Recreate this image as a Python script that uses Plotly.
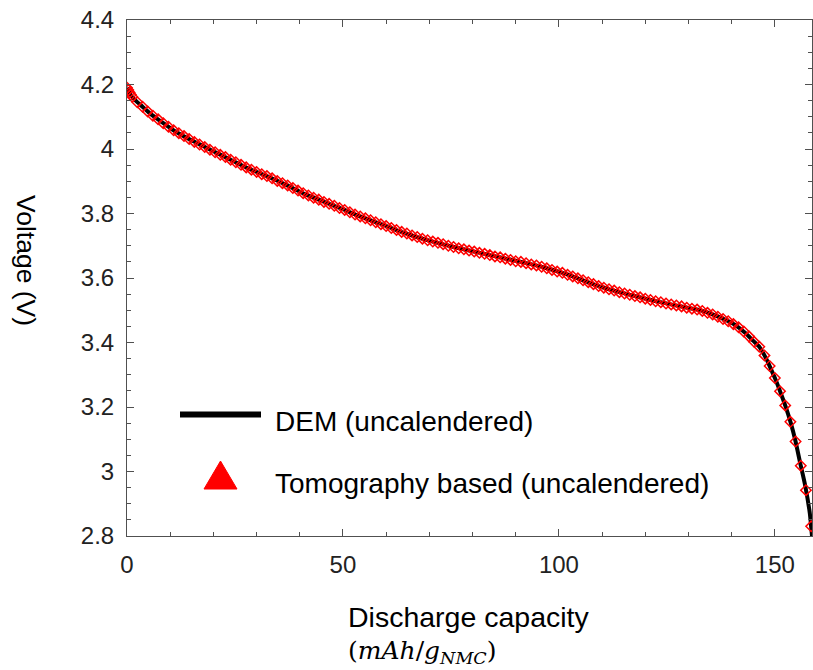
import plotly.graph_objects as go

# DEM simulation (uncalendered electrode): discharge capacity [mAh/g_NMC] vs voltage [V]
dem_capacity = [0, 1, 2, 3.6, 5.5, 7.9, 11, 15.5, 20, 24.1, 28, 32.7, 37, 41.2, 45.5,
                49.8, 54, 58.3, 62.5, 66.9, 71, 75.4, 80, 84, 88, 92.5, 97, 101, 105,
                109.6, 114, 118.2, 122.5, 126.7, 130, 133, 136, 139.4, 141.5, 143.3,
                145, 146.4, 147.6, 148.7, 149.5, 150.2, 151.4, 152.5, 153.7, 154.8,
                155.8, 157.0, 158.1, 158.6]
dem_voltage = [4.190, 4.165, 4.150, 4.131, 4.108, 4.085, 4.056, 4.023, 3.993, 3.966,
               3.940, 3.914, 3.888, 3.860, 3.837, 3.814, 3.791, 3.770, 3.748, 3.728,
               3.712, 3.697, 3.683, 3.671, 3.659, 3.646, 3.631, 3.615, 3.596, 3.573,
               3.556, 3.542, 3.528, 3.516, 3.507, 3.499, 3.485, 3.465, 3.448, 3.428,
               3.405, 3.387, 3.360, 3.330, 3.305, 3.284, 3.242, 3.201, 3.150, 3.093,
               3.030, 2.958, 2.870, 2.800]

# Tomography-based simulation (uncalendered electrode)
tomo_capacity = [0, 0.3, 0.6, 0.9, 1.2, 2.4, 3.6, 4.8, 6.0, 7.2, 8.4, 9.6, 10.8, 12.0,
                 13.2, 14.4, 15.6, 16.8, 18.0, 19.2, 20.4, 21.6, 22.8, 24.0, 25.2, 26.4,
                 27.6, 28.8, 30.0, 31.2, 32.4, 33.6, 34.8, 36.0, 37.2, 38.4, 39.6, 40.8,
                 42.0, 43.2, 44.4, 45.6, 46.8, 48.0, 49.2, 50.4, 51.6, 52.8, 54.0, 55.2,
                 56.4, 57.6, 58.8, 60.0, 61.2, 62.4, 63.6, 64.8, 66.0, 67.2, 68.4, 69.6,
                 70.8, 72.0, 73.2, 74.4, 75.6, 76.8, 78.0, 79.2, 80.4, 81.6, 82.8, 84.0,
                 85.2, 86.4, 87.6, 88.8, 90.0, 91.2, 92.4, 93.6, 94.8, 96.0, 97.2, 98.4,
                 99.6, 100.8, 102.0, 103.2, 104.4, 105.6, 106.8, 108.0, 109.2, 110.4,
                 111.6, 112.8, 114.0, 115.2, 116.4, 117.6, 118.8, 120.0, 121.2, 122.4,
                 123.6, 124.8, 126.0, 127.2, 128.4, 129.6, 130.8, 132.0, 133.2, 134.4,
                 135.6, 136.8, 138.0, 139.2, 140.4, 141.6, 142.8, 144.0, 145.2, 146.4,
                 147.6, 148.8, 150.0, 151.2, 152.4, 153.6, 154.8, 156.0, 157.2, 158.4]
tomo_voltage = [4.190, 4.183, 4.175, 4.168, 4.162, 4.145, 4.131, 4.116, 4.103, 4.092,
                4.080, 4.069, 4.058, 4.049, 4.040, 4.031, 4.022, 4.014, 4.006, 3.998,
                3.990, 3.982, 3.975, 3.967, 3.959, 3.951, 3.943, 3.936, 3.929, 3.922,
                3.916, 3.909, 3.901, 3.894, 3.887, 3.879, 3.871, 3.863, 3.856, 3.849,
                3.843, 3.836, 3.830, 3.824, 3.817, 3.811, 3.804, 3.797, 3.791, 3.785,
                3.779, 3.773, 3.767, 3.761, 3.755, 3.749, 3.743, 3.738, 3.732, 3.727,
                3.722, 3.717, 3.713, 3.709, 3.705, 3.700, 3.696, 3.692, 3.689, 3.685,
                3.682, 3.678, 3.675, 3.671, 3.667, 3.664, 3.660, 3.656, 3.652, 3.650,
                3.646, 3.642, 3.639, 3.635, 3.630, 3.625, 3.620, 3.616, 3.610, 3.605,
                3.599, 3.593, 3.587, 3.581, 3.575, 3.570, 3.565, 3.561, 3.556, 3.552,
                3.548, 3.544, 3.540, 3.536, 3.532, 3.528, 3.525, 3.521, 3.518, 3.515,
                3.512, 3.508, 3.505, 3.502, 3.498, 3.492, 3.487, 3.480, 3.473, 3.466,
                3.457, 3.447, 3.434, 3.419, 3.402, 3.387, 3.360, 3.327, 3.290, 3.249,
                3.205, 3.154, 3.093, 3.018, 2.942, 2.830]

x_tick_vals = [0, 50, 100, 150]
x_tick_text = ["0", "50", "100", "150"]
y_tick_vals = [2.8, 3.0, 3.2, 3.4, 3.6, 3.8, 4.0, 4.2, 4.4]
y_tick_text = ["2.8", "3", "3.2", "3.4", "3.6", "3.8", "4", "4.2", "4.4"]

legend_labels = ["DEM (uncalendered)", "Tomography based (uncalendered)"]

FONT = "Liberation Sans, Arial, sans-serif"
AXIS_COLOR = "#505050"
TEXT_COLOR = "#222222"

fig = go.Figure()

fig.add_trace(go.Scatter(
    x=dem_capacity, y=dem_voltage, mode="lines",
    line=dict(color="black", width=4, shape="spline", smoothing=0.5),
    name=legend_labels[0], showlegend=False,
))
fig.add_trace(go.Scatter(
    x=tomo_capacity, y=tomo_voltage, mode="markers",
    marker=dict(symbol="diamond-open", size=8, color="#ff0000",
                line=dict(color="#ff0000", width=1.5)),
    name=legend_labels[1], showlegend=False,
))

axis_common = dict(
    showline=True, linecolor=AXIS_COLOR, linewidth=1, mirror="allticks",
    ticks="inside", tickcolor=AXIS_COLOR, tickwidth=1, ticklen=7,
    showgrid=False, zeroline=False,
    tickfont=dict(family=FONT, size=24, color=TEXT_COLOR),
)

fig.update_xaxes(
    range=[0, 158.6], tickmode="array", tickvals=x_tick_vals, ticktext=x_tick_text,
    minor=dict(tickmode="linear", tick0=0, dtick=10, ticks="inside", ticklen=4,
               tickcolor=AXIS_COLOR, tickwidth=1),
    ticklabelstandoff=7,
    **axis_common,
)
fig.update_yaxes(
    range=[2.8, 4.4], tickmode="array", tickvals=y_tick_vals, ticktext=y_tick_text,
    minor=dict(tickmode="linear", tick0=2.8, dtick=0.05, ticks="inside", ticklen=4,
               tickcolor=AXIS_COLOR, tickwidth=1),
    ticklabelstandoff=7,
    **axis_common,
)

# plot-area geometry in pixels (for placing legend keys and titles)
L, R, T, B = 127, 812, 20, 536


def px(xp):
    return (xp - L) / (R - L)


def py(yp):
    return (B - yp) / (B - T)


# legend keys
fig.add_shape(type="line", xref="paper", yref="paper",
              x0=px(180), x1=px(261), y0=py(414.5), y1=py(414.5),
              line=dict(color="black", width=6))
fig.add_shape(type="path", xref="paper", yref="paper",
              path=f"M {px(220.5)},{py(461)} L {px(237)},{py(489)} L {px(204)},{py(489)} Z",
              fillcolor="#ff0000", line=dict(color="#ff0000", width=1))

annotations = [
    dict(text=legend_labels[0], x=px(273), y=py(421), xanchor="left", yanchor="middle",
         font=dict(family=FONT, size=28, color="black")),
    dict(text=legend_labels[1], x=px(273), y=py(483), xanchor="left", yanchor="middle",
         font=dict(family=FONT, size=28, color="black")),
    dict(text="Voltage (V)", x=px(26), y=py(260), textangle=90,
         xanchor="center", yanchor="middle",
         font=dict(family=FONT, size=26.5, color="black")),
    dict(text="Discharge capacity", x=px(346), y=py(617), xanchor="left", yanchor="middle",
         font=dict(family=FONT, size=28.5, color="black")),
    dict(text="(<i>mAh</i>/<i>g</i><sub><i>NMC</i></sub>)", x=px(346), y=py(670),
         xanchor="left", yanchor="bottom",
         font=dict(family="DejaVu Serif, Liberation Serif, serif", size=25, color="black")),
]
for a in annotations:
    a.update(xref="paper", yref="paper", showarrow=False)
fig.update_layout(annotations=annotations)

fig.update_layout(
    width=813, height=670,
    margin=dict(l=L, r=813 - R, t=T, b=670 - B),
    paper_bgcolor="white", plot_bgcolor="white",
    showlegend=False,
)

fig.write_html("out.html")
